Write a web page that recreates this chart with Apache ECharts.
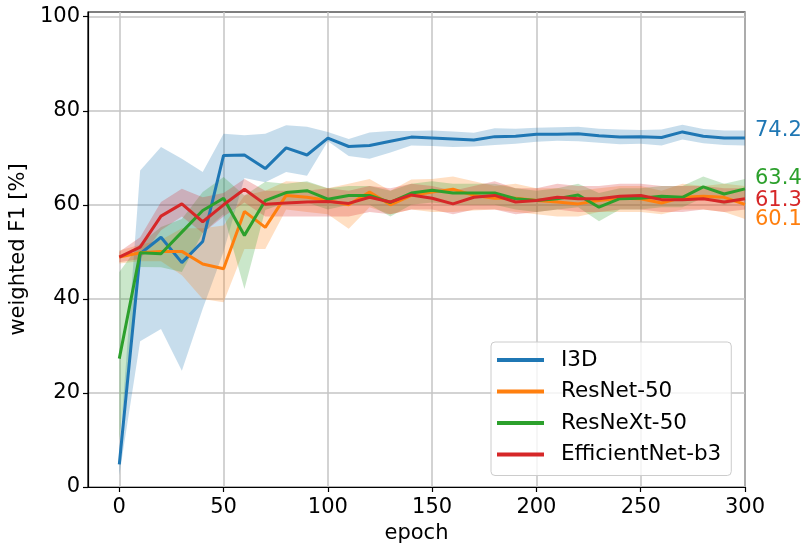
<!DOCTYPE html>
<html>
<head>
<meta charset="utf-8">
<script src="https://cdn.jsdelivr.net/npm/echarts@6/dist/echarts.min.js"></script>
<style>
html,body{margin:0;padding:0;background:#fff;}
#chart{width:803px;height:549px;}
</style>
</head>
<body>
<div id="chart"></div>
<script>
// ---- data ----
const epochs = [0,10,20,30,40,50,60,70,80,90,100,110,120,130,140,150,160,170,180,190,200,210,220,230,240,250,260,270,280,290,300];

const modelNames = ['I3D', 'ResNet-50', 'ResNeXt-50', 'EfficientNet-b3'];

const i3dMean  = [4.8,49.6,53.1,47.7,52.2,70.5,70.6,67.7,72.1,70.6,74.2,72.4,72.6,73.5,74.4,74.2,74.0,73.8,74.5,74.6,75.0,75.0,75.1,74.7,74.4,74.5,74.3,75.5,74.6,74.2,74.2];
const i3dLower = [2.5,31.0,33.6,24.7,37.9,50.0,65.7,64.8,67.0,66.2,73.5,70.4,69.8,71.1,72.6,72.5,72.3,72.4,72.7,73.0,73.4,73.6,73.5,73.2,72.9,73.0,72.6,73.9,73.1,72.7,72.6];
const i3dUpper = [7.0,67.3,72.3,69.8,67.0,75.1,74.8,75.1,76.9,76.6,75.5,74.0,75.4,75.7,75.7,75.8,75.6,75.3,76.3,76.2,76.4,76.5,76.6,76.2,76.0,75.9,76.0,77.0,76.1,75.8,75.8];

const resnetMean  = [48.9,49.8,50.1,50.1,47.4,46.4,58.6,55.2,62.0,61.6,60.9,60.0,62.7,60.0,62.0,62.7,63.3,62.0,61.4,61.4,60.9,60.6,60.2,60.9,61.4,61.3,60.4,61.6,61.8,61.6,60.1];
const resnetLower = [47.5,48.0,48.0,45.0,40.0,39.3,50.6,50.6,59.0,58.5,58.0,54.9,59.5,58.0,59.0,58.5,58.5,58.8,59.0,58.5,58.0,57.5,57.5,58.5,58.5,58.5,58.0,59.0,59.0,58.5,57.0];
const resnetUpper = [50.3,51.5,52.5,55.0,55.0,55.6,62.0,63.0,65.0,64.8,63.5,64.5,65.5,63.0,65.4,65.5,66.0,65.0,64.0,64.5,63.5,63.5,63.0,63.5,64.0,64.0,63.0,64.5,64.0,64.5,64.0];

const resnextMean  = [27.3,49.8,49.6,54.2,58.8,61.4,53.5,60.9,62.6,63.0,61.2,62.0,62.0,60.5,62.5,63.1,62.5,62.5,62.5,61.3,60.9,61.3,62.1,59.5,61.3,61.4,61.8,61.6,63.8,62.3,63.4];
const resnextLower = [10.0,46.8,46.7,45.7,54.0,58.0,42.1,58.9,60.5,60.5,59.0,60.0,60.0,57.5,60.0,60.5,60.0,60.0,60.0,59.0,58.5,59.0,59.5,56.5,59.0,59.0,59.5,59.5,61.5,60.0,61.0];
const resnextUpper = [45.7,51.7,55.3,57.0,62.7,65.9,62.0,64.9,64.5,65.0,63.5,64.0,64.0,63.0,64.5,65.0,64.5,64.5,64.5,63.5,63.0,63.5,64.5,62.5,63.5,63.5,64.0,64.0,66.0,64.5,65.5];

const effMean  = [48.9,51.0,57.6,60.2,56.4,60.0,63.3,60.1,60.4,60.6,60.7,60.3,61.6,60.6,62.1,61.4,60.2,61.6,62.0,60.6,60.9,61.6,61.3,61.3,61.8,62.0,61.1,61.1,61.3,60.6,61.3];
const effLower = [47.8,48.5,54.6,57.5,54.0,57.5,60.5,57.5,57.5,57.5,57.5,57.5,58.5,58.0,59.0,59.0,58.0,59.0,59.0,58.0,58.5,59.0,58.5,58.5,59.0,59.0,58.5,58.5,59.0,58.5,59.0];
const effUpper = [50.0,53.1,60.6,63.4,61.6,62.5,65.5,63.0,63.0,63.0,63.5,63.0,64.0,63.5,64.5,64.0,63.0,64.0,65.0,63.5,63.5,64.5,64.0,64.0,64.5,64.5,64.0,64.0,64.0,63.5,63.5];

const xTicks = [0,50,100,150,200,250,300];
const yTicks = [0,20,40,60,80,100];

// ---- styling ----
const colors = ['#1f77b4', '#ff7f0e', '#2ca02c', '#d62728'];
const endLabelOffsets = [[2,-7.6],[2,15],[2,-10],[2,2]];
const FONT = 'DejaVu Sans';
const FS = 21;

const means = [i3dMean, resnetMean, resnextMean, effMean];
const lowers = [i3dLower, resnetLower, resnextLower, effLower];
const uppers = [i3dUpper, resnetUpper, resnextUpper, effUpper];

function pairs(ys){ return epochs.map((x,i)=>[x, ys[i]]); }

const series = [];
// shaded bands (drawn as one polygon through the axes' scales)
modelNames.forEach((name, k) => {
  series.push({
    name: name + ' band', type: 'custom', silent: true, z: 1,
    data: epochs.map((x,i)=>[x, lowers[k][i], uppers[k][i]]),
    encode: {x: 0, y: [1, 2]},
    renderItem: function (params, api) {
      if (params.dataIndex !== 0) return null;
      const top = [], bot = [];
      for (let i = 0; i < epochs.length; i++) {
        top.push(api.coord([epochs[i], uppers[k][i]]));
        bot.push(api.coord([epochs[i], lowers[k][i]]));
      }
      return {
        type: 'polygon',
        shape: {points: top.concat(bot.reverse())},
        style: {fill: colors[k], opacity: 0.25}
      };
    }
  });
});
// mean lines
modelNames.forEach((name, k) => {
  series.push({
    name: name, type: 'line', data: pairs(means[k]), symbol: 'none',
    lineStyle: {color: colors[k], width: 3}, itemStyle: {color: colors[k]},
    z: 3 + k,
    endLabel: {
      show: true, color: colors[k], fontFamily: FONT, fontSize: FS,
      formatter: () => means[k][means[k].length - 1].toFixed(1),
      offset: endLabelOffsets[k]
    }
  });
});

const chart = echarts.init(document.getElementById('chart'), null, {renderer: 'canvas'});
chart.setOption({
  animation: false,
  backgroundColor: '#fff',
  grid: {left: 88, right: 58, top: 12, bottom: 62, show: true, borderColor: '#000', borderWidth: 1.2, backgroundColor: 'transparent'},
  xAxis: {
    type: 'value', min: -15, max: 300,
    name: 'epoch', nameLocation: 'middle', nameGap: 35,
    nameTextStyle: {fontFamily: FONT, fontSize: FS, color: '#000'},
    axisLine: {show: true, onZero: false, lineStyle: {color: '#000', width: 1.2}},
    axisTick: {show: true, length: 5, customValues: xTicks, lineStyle: {color: '#000', width: 1.2}},
    axisLabel: {customValues: xTicks, fontFamily: FONT, fontSize: FS, color: '#000', margin: 10},
    splitLine: {show: true, lineStyle: {color: '#c4c4c4', width: 1.5}}
  },
  yAxis: {
    type: 'value', min: 0, max: 101,
    name: 'weighted F1 [%]', nameLocation: 'middle', nameGap: 55,
    nameTextStyle: {fontFamily: FONT, fontSize: FS, color: '#000'},
    axisLine: {show: true, onZero: false, lineStyle: {color: '#000', width: 1.2}},
    axisTick: {show: true, length: 5, customValues: yTicks, lineStyle: {color: '#000', width: 1.2}},
    axisLabel: {customValues: yTicks, fontFamily: FONT, fontSize: FS, color: '#000', margin: 8},
    splitLine: {show: true, lineStyle: {color: '#c4c4c4', width: 1.5}}
  },
  legend: {
    data: modelNames, orient: 'vertical', left: 491, top: 342,
    padding: [7, 10, 10, 6], itemGap: 9.5, itemWidth: 47, itemHeight: 4, icon: 'rect',
    backgroundColor: 'rgba(255,255,255,0.8)', borderColor: '#cccccc', borderWidth: 1, borderRadius: 4,
    textStyle: {fontFamily: FONT, fontSize: 21.5, color: '#000', lineHeight: 22, padding: [0,0,0,12]}
  },
  series: series
});
</script>
</body>
</html>
